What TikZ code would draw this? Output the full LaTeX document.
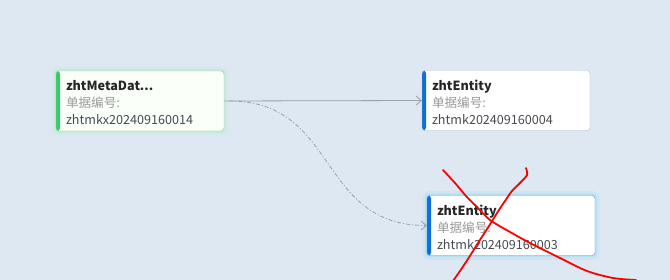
\documentclass[tikz,border=0pt]{standalone}
\usepackage{fontspec}
\setmainfont{Noto Sans CJK SC}
\usetikzlibrary{arrows.meta}

\definecolor{canvas}{HTML}{DEE8F2}
\definecolor{linkgray}{HTML}{9A9FA6}
\definecolor{labelgray}{HTML}{9A9A9A}
\definecolor{valuegray}{HTML}{474B52}
\definecolor{metagreen}{HTML}{3CC866}
\definecolor{entityblue}{HTML}{0B6FDC}

\newcommand{\cardtitle}[1]{\rule{0pt}{13.5pt}\textbf{\color{black!85}#1}}

\tikzset{
    card/.style={
        rectangle, rounded corners=3pt, minimum width=168pt, minimum height=60pt,
        text width=148pt, align=left, inner xsep=10pt, inner ysep=0pt,
        font=\fontsize{12.6}{17}\selectfont, text=valuegray,
        path picture={
            \fill[#1] (path picture bounding box.north west)
                rectangle ([xshift=4pt]path picture bounding box.south west);
        }
    },
    glow/.style={preaction={draw=#1, line width=9pt, opacity=0.15},
                 preaction={draw=#1, line width=4pt, opacity=0.3}},
    link/.style={draw=linkgray, line width=0.8pt,
                 -{Straight Barb[length=5pt, width=9pt, line width=0.8pt]}},
    scribble/.style={red, line width=1.8pt, line cap=round, line join=round}
}

\begin{document}
\begin{tikzpicture}[x=1pt, y=-1pt]
    \clip (0,0) rectangle (670,280);
    \fill[canvas] (0,0) rectangle (670,280);

    % source record and the two entities
    \node[card=metagreen, fill=green!2, draw=metagreen!70, glow=metagreen!40] (meta) at (140,101)
        {\cardtitle{zhtMetaDat...}\\{\color{labelgray}单据编号:}\\zhtmkx202409160014};
    \node[card=entityblue, fill=white, draw=blue!20!gray!45] (ent4) at (506,100.5)
        {\cardtitle{zhtEntity}\\{\color{labelgray}单据编号:}\\zhtmk202409160004};
    \node[card=entityblue, fill=white, draw=entityblue!70, glow=cyan!50] (ent3) at (511,225.5)
        {\cardtitle{zhtEntity}\\{\color{labelgray}单据编号:}\\zhtmk202409160003};

    % links
    \draw[link] (meta.east) -- (ent4.west);
    \draw[link, dash pattern=on 4pt off 2pt on 1pt off 2pt]
        ([xshift=5pt]meta.east) .. controls +(110,0) and +(-110,0) .. (ent3.west);

    % red cross over the lower entity
    \draw[scribble] plot[smooth] coordinates {(443,170) (455,183) (466,196) (477,207) (490,220)
        (510,232) (530,243) (560,258) (587,271) (613,278) (636,280)};
    \draw[scribble] plot[smooth] coordinates {(526,168) (527,175) (520,183) (512,191) (505,201)
        (497,213) (489,226) (478,243) (468,259) (460,271) (453,281)};
\end{tikzpicture}
\end{document}
